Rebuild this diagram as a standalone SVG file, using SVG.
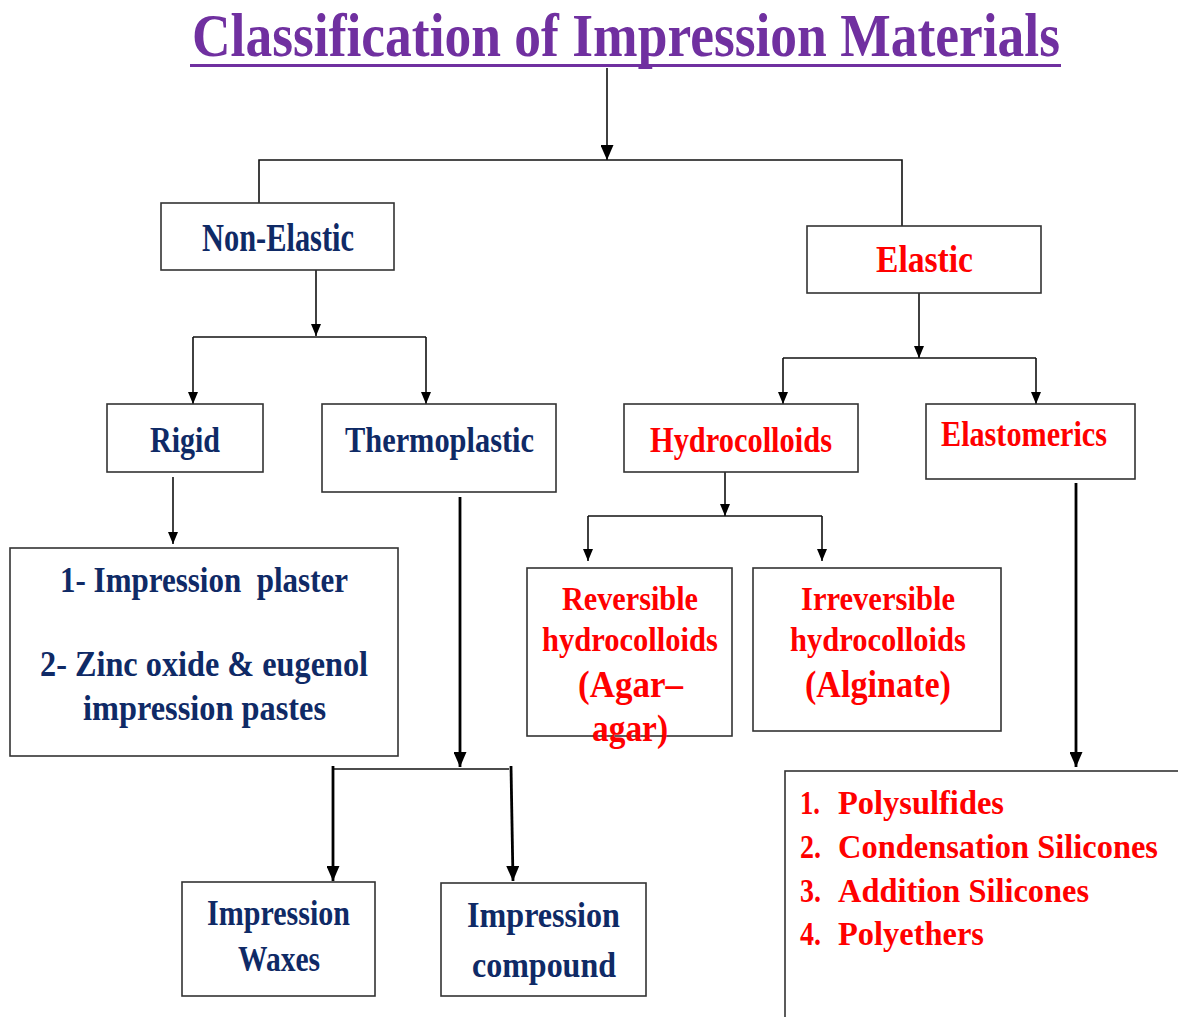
<svg xmlns="http://www.w3.org/2000/svg" width="1178" height="1017" viewBox="0 0 1178 1017">
<defs>
<style>
text{font-family:"Liberation Serif","Times New Roman",serif;font-weight:bold;}
.t{fill:#7030A0;font-size:62px;}
.n{fill:#0F2A66;font-size:36px;}
.r{fill:#FF0000;font-size:36px;}
.box{fill:#fff;stroke:#333;stroke-width:1.6;}
.ln{stroke:#111;stroke-width:1.6;fill:none;}
.thk{stroke:#000;stroke-width:2.8;fill:none;}
</style>
<marker id="ah" markerUnits="userSpaceOnUse" viewBox="0 0 12 10" markerWidth="12" markerHeight="10" refX="12" refY="5" orient="auto"><path d="M0,0 L12,5 L0,10 z" fill="#000"/></marker>
<marker id="ahb" markerUnits="userSpaceOnUse" viewBox="0 0 15 13" markerWidth="15" markerHeight="13" refX="15" refY="6.5" orient="auto"><path d="M0,0 L15,6.5 L0,13 z" fill="#000"/></marker>
</defs>
<rect width="1178" height="1017" fill="#fff"/>
<g id="title">
<text class="t" x="626" y="56" text-anchor="middle" textLength="868" lengthAdjust="spacingAndGlyphs">Classification of Impression Materials</text>
<line x1="190" y1="65.5" x2="1061" y2="65.5" stroke="#7030A0" stroke-width="3"/>
</g>
<g id="connectors">
<line class="ln" x1="607" y1="68" x2="607" y2="160" marker-end="url(#ahb)" stroke-width="2.4"/>
<polyline class="ln" points="259,203 259,160 902,160 902,231"/>
<line class="ln" x1="316" y1="270" x2="316" y2="336" marker-end="url(#ah)"/>
<line class="ln" x1="193" y1="337" x2="426" y2="337"/>
<line class="ln" x1="193" y1="337" x2="193" y2="404" marker-end="url(#ah)"/>
<line class="ln" x1="426" y1="337" x2="426" y2="404" marker-end="url(#ah)"/>
<line class="ln" x1="173" y1="477" x2="173" y2="544" marker-end="url(#ah)"/>
<line class="thk" x1="460" y1="497" x2="460" y2="767" marker-end="url(#ahb)"/>
<line class="ln" x1="333" y1="769" x2="509" y2="769"/>
<line class="thk" x1="333" y1="766" x2="333" y2="881" marker-end="url(#ahb)"/>
<line class="thk" x1="511" y1="766" x2="513" y2="881" marker-end="url(#ahb)"/>
<line class="ln" x1="919" y1="293" x2="919" y2="358" marker-end="url(#ah)"/>
<line class="ln" x1="783" y1="358" x2="1036" y2="358"/>
<line class="ln" x1="783" y1="358" x2="783" y2="404" marker-end="url(#ah)"/>
<line class="ln" x1="1036" y1="358" x2="1036" y2="404" marker-end="url(#ah)"/>
<line class="ln" x1="725" y1="472" x2="725" y2="516" marker-end="url(#ah)"/>
<line class="ln" x1="588" y1="516" x2="822" y2="516"/>
<line class="ln" x1="588" y1="516" x2="588" y2="561" marker-end="url(#ah)"/>
<line class="ln" x1="822" y1="516" x2="822" y2="561" marker-end="url(#ah)"/>
<line class="thk" x1="1076" y1="483" x2="1076" y2="767" marker-end="url(#ahb)"/>
</g>
<g id="non-elastic">
<rect class="box" x="161" y="203" width="233" height="67"/>
<text class="n" x="278" y="251" style="font-size:41px" text-anchor="middle" textLength="152" lengthAdjust="spacingAndGlyphs">Non-Elastic</text>
</g>
<g id="elastic">
<rect class="box" x="807" y="226" width="234" height="67"/>
<text class="r" x="924.5" y="272" style="font-size:38px" text-anchor="middle" textLength="97" lengthAdjust="spacingAndGlyphs">Elastic</text>
</g>
<g id="rigid">
<rect class="box" x="107" y="404" width="156" height="68"/>
<text class="n" x="185" y="452" text-anchor="middle" textLength="70" lengthAdjust="spacingAndGlyphs">Rigid</text>
</g>
<g id="thermoplastic">
<rect class="box" x="322" y="404" width="234" height="88"/>
<text class="n" x="439.5" y="452" text-anchor="middle" textLength="189" lengthAdjust="spacingAndGlyphs">Thermoplastic</text>
</g>
<g id="hydrocolloids">
<rect class="box" x="624" y="404" width="234" height="68"/>
<text class="r" x="741" y="452" text-anchor="middle" textLength="182" lengthAdjust="spacingAndGlyphs">Hydrocolloids</text>
</g>
<g id="elastomerics">
<rect class="box" x="926" y="404" width="209" height="75"/>
<text class="r" x="1024" y="446" text-anchor="middle" textLength="166" lengthAdjust="spacingAndGlyphs">Elastomerics</text>
</g>
<g id="rigid-list">
<rect class="box" x="10" y="548" width="388" height="208"/>
<text class="n" x="204" y="592" text-anchor="middle" textLength="288" lengthAdjust="spacingAndGlyphs" xml:space="preserve">1- Impression  plaster</text>
<text class="n" x="204" y="676" text-anchor="middle" textLength="328" lengthAdjust="spacingAndGlyphs">2- Zinc oxide &amp; eugenol</text>
<text class="n" x="204.5" y="720" text-anchor="middle" textLength="243" lengthAdjust="spacingAndGlyphs">impression pastes</text>
</g>
<g id="reversible">
<rect class="box" x="527" y="568" width="205" height="168"/>
<text class="r" x="630" y="610" style="font-size:34px" text-anchor="middle" textLength="136" lengthAdjust="spacingAndGlyphs">Reversible</text>
<text class="r" x="630" y="651" style="font-size:34px" text-anchor="middle" textLength="176" lengthAdjust="spacingAndGlyphs">hydrocolloids</text>
<text class="r" x="630.5" y="697" style="font-size:38px" text-anchor="middle" textLength="105" lengthAdjust="spacingAndGlyphs">(Agar–</text>
<text class="r" x="630" y="741" style="font-size:38px" text-anchor="middle" textLength="76" lengthAdjust="spacingAndGlyphs">agar)</text>
</g>
<g id="irreversible">
<rect class="box" x="753" y="568" width="248" height="163"/>
<text class="r" x="878" y="610" style="font-size:34px" text-anchor="middle" textLength="154" lengthAdjust="spacingAndGlyphs">Irreversible</text>
<text class="r" x="878" y="651" style="font-size:34px" text-anchor="middle" textLength="176" lengthAdjust="spacingAndGlyphs">hydrocolloids</text>
<text class="r" x="878" y="697" style="font-size:38px" text-anchor="middle" textLength="146" lengthAdjust="spacingAndGlyphs">(Alginate)</text>
</g>
<g id="waxes">
<rect class="box" x="182" y="882" width="193" height="114"/>
<text class="n" x="278.5" y="925" text-anchor="middle" textLength="143" lengthAdjust="spacingAndGlyphs">Impression</text>
<text class="n" x="279" y="971" text-anchor="middle" textLength="82" lengthAdjust="spacingAndGlyphs">Waxes</text>
</g>
<g id="compound">
<rect class="box" x="441" y="883" width="205" height="113"/>
<text class="n" x="543.5" y="927" text-anchor="middle" textLength="153" lengthAdjust="spacingAndGlyphs">Impression</text>
<text class="n" x="544" y="977" text-anchor="middle" textLength="144" lengthAdjust="spacingAndGlyphs">compound</text>
</g>
<g id="elastomer-list">
<rect class="box" x="785" y="771" width="400" height="260"/>
<text class="r" x="800" y="814" style="font-size:34px" textLength="20" lengthAdjust="spacingAndGlyphs">1.</text>
<text class="r" x="838" y="814" style="font-size:34px" textLength="166" lengthAdjust="spacingAndGlyphs">Polysulfides</text>
<text class="r" x="800" y="858" style="font-size:34px" textLength="21" lengthAdjust="spacingAndGlyphs">2.</text>
<text class="r" x="838" y="858" style="font-size:34px" textLength="320" lengthAdjust="spacingAndGlyphs">Condensation Silicones</text>
<text class="r" x="800" y="902" style="font-size:34px" textLength="21" lengthAdjust="spacingAndGlyphs">3.</text>
<text class="r" x="838" y="902" style="font-size:34px" textLength="251" lengthAdjust="spacingAndGlyphs">Addition Silicones</text>
<text class="r" x="800" y="945" style="font-size:34px" textLength="21" lengthAdjust="spacingAndGlyphs">4.</text>
<text class="r" x="838" y="945" style="font-size:34px" textLength="146" lengthAdjust="spacingAndGlyphs">Polyethers</text>
</g>
</svg>
